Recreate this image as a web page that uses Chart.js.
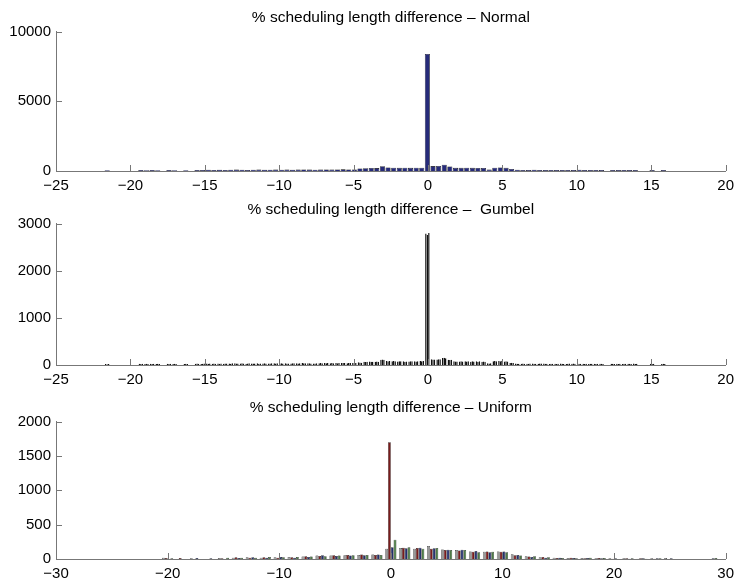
<!DOCTYPE html>
<html>
<head>
<meta charset="utf-8">
<script src="https://cdn.jsdelivr.net/npm/chart.js@4.4.0/dist/chart.umd.min.js"></script>
<style>
  body { margin: 0; background: #fff; }
  #wrap { position: relative; width: 740px; height: 582px; }
  canvas { position: absolute; left: 0; }
</style>
</head>
<body>
<div id="wrap">
  <canvas id="normalChart" width="740" height="202" style="top:0px"></canvas>
  <canvas id="gumbelChart" width="740" height="204" style="top:192px"></canvas>
  <canvas id="uniformChart" width="740" height="192" style="top:390px"></canvas>
</div>
<script>
// histogram bins (normal + gumbel share the same 100 bins)
const normalBinStart = -21.75;
const normalBinWidth = 0.3775;
const uniformBinStart = -20;
const uniformBinWidth = 1.25;

// Normal - counts per bin
const normalCounts = [
  60, 0, 0, 0, 0, 0, 70, 60, 70, 60, 0, 70, 60, 0, 60, 0,
  80, 70, 90, 80, 90, 80, 90, 100, 90, 80, 90, 100, 90, 90, 100, 90, 100, 90, 100, 110, 100, 90, 100, 110, 100, 110, 120, 110,
  110, 180, 200, 220, 210, 340, 250, 240, 230, 240, 230, 240, 240,
  8400,
  350, 360, 450, 330, 230, 230, 240, 230, 220, 220, 100, 240, 260, 230, 150,
  90, 80, 80, 90, 80, 80, 70, 80, 80, 70, 80, 90, 80, 70, 80, 70,
  0, 70, 80, 70, 70, 80, 0, 0, 80, 0, 70
];

// Gumbel - three grouped series
const gumbelA = [
  20, 0, 0, 0, 0, 0, 25, 20, 25, 20, 0, 25, 20, 0, 20, 0,
  25, 20, 30, 25, 30, 25, 30, 35, 30, 25, 30, 35, 30, 30, 35, 30, 35, 30, 35, 40, 35, 30, 35, 40, 35, 40, 40, 35,
  40, 60, 70, 75, 70, 110, 85, 80, 75, 80, 75, 80, 85,
  2790,
  120, 115, 150, 110, 80, 75, 80, 70, 80, 70, 35, 80, 85, 75, 45,
  30, 25, 25, 30, 25, 30, 20, 25, 30, 20, 25, 30, 25, 20, 25, 25,
  0, 25, 25, 20, 25, 30, 0, 0, 25, 0, 20
];
const gumbelB = [
  15, 0, 0, 0, 0, 0, 20, 25, 20, 25, 0, 20, 25, 0, 25, 0,
  30, 25, 25, 30, 25, 30, 25, 30, 35, 30, 30, 25, 35, 30, 30, 35, 30, 35, 30, 35, 35, 30, 40, 35, 40, 35, 45, 40,
  35, 55, 65, 70, 75, 115, 80, 85, 80, 70, 80, 75, 80,
  2760,
  115, 120, 155, 105, 75, 80, 75, 80, 70, 75, 30, 85, 80, 80, 50,
  25, 30, 25, 25, 30, 25, 25, 20, 25, 25, 30, 25, 20, 25, 20, 25,
  0, 25, 20, 25, 25, 20, 0, 0, 20, 0, 25
];
const gumbelC = [
  20, 0, 0, 0, 0, 0, 25, 20, 25, 20, 0, 25, 20, 0, 20, 0,
  25, 30, 30, 25, 30, 30, 35, 30, 30, 35, 30, 30, 30, 35, 35, 30, 30, 35, 35, 35, 30, 35, 35, 40, 35, 40, 40, 40,
  40, 50, 70, 70, 70, 110, 85, 80, 80, 75, 80, 80, 85,
  2800,
  115, 120, 145, 110, 75, 75, 80, 75, 80, 70, 35, 80, 90, 75, 45,
  25, 25, 30, 25, 30, 25, 25, 25, 20, 30, 25, 25, 25, 25, 25, 20,
  0, 20, 25, 25, 20, 25, 0, 0, 25, 0, 20
];

// Uniform - four grouped series, 40 bins
const uniformGray = [20, 0, 10, 0, 15, 20, 25, 20, 25, 30, 35, 50, 50, 55, 60, 65, 150, 160, 150, 190, 140, 130, 110, 105, 110, 70, 40, 25, 20, 15, 15, 10, 10, 10, 5, 10, 15, 0, 0, 0];
const uniformRed = [15, 15, 0, 0, 10, 25, 20, 25, 20, 25, 40, 45, 55, 60, 65, 60, 1700, 165, 160, 150, 130, 125, 105, 110, 105, 55, 35, 30, 15, 20, 10, 15, 5, 10, 10, 5, 0, 0, 0, 0];
const uniformNavy = [0, 0, 15, 10, 0, 15, 25, 20, 30, 20, 30, 55, 45, 50, 55, 65, 170, 155, 165, 155, 135, 135, 115, 100, 110, 60, 30, 20, 20, 15, 15, 10, 10, 5, 10, 10, 10, 0, 0, 10];
const uniformGreen = [10, 0, 0, 0, 20, 20, 20, 30, 25, 30, 35, 40, 50, 55, 60, 60, 280, 170, 150, 160, 130, 130, 100, 105, 100, 50, 40, 25, 15, 10, 20, 15, 0, 10, 5, 10, 0, 0, 0, 15];

const titles = [
  '% scheduling length difference \u2013 Normal',
  '% scheduling length difference \u2013  Gumbel',
  '% scheduling length difference \u2013 Uniform'
];

Chart.defaults.font.family = '"Liberation Sans", Arial, Helvetica, sans-serif';
Chart.defaults.font.size = 15;
Chart.defaults.color = '#000';

// turn counts into {x, y} points at the bin centres
function toPoints(counts, start, width) {
  return counts.map((c, i) => ({ x: start + width * (i + 0.5), y: c === 0 ? null : c }));
}

function minusLabel(v) {
  return v < 0 ? '\u2212' + Math.abs(v) : String(v);
}

// matlab style ticks pointing into the plot
const inwardTicks = {
  id: 'inwardTicks',
  afterDraw(chart) {
    const ctx = chart.ctx;
    const area = chart.chartArea;
    ctx.save();
    ctx.strokeStyle = '#777';
    ctx.lineWidth = 1;
    chart.scales.x.ticks.forEach(t => {
      const px = Math.round(chart.scales.x.getPixelForValue(t.value)) + 0.5;
      ctx.beginPath();
      ctx.moveTo(px, area.bottom);
      ctx.lineTo(px, area.bottom - 6);
      ctx.stroke();
    });
    chart.scales.y.ticks.forEach(t => {
      const py = Math.round(chart.scales.y.getPixelForValue(t.value)) + 0.5;
      ctx.beginPath();
      ctx.moveTo(area.left, py);
      ctx.lineTo(area.left + 6, py);
      ctx.stroke();
    });
    ctx.restore();
  }
};

function makeChart(id, title, datasets, xr, yr, groupPct, padBottom) {
  const ctx = document.getElementById(id).getContext('2d');
  return new Chart(ctx, {
    type: 'bar',
    data: { datasets: datasets },
    options: {
      responsive: false,
      animation: false,
      devicePixelRatio: 1,
      layout: { padding: { left: 0, right: 13, top: 0, bottom: padBottom } },
      datasets: { bar: { categoryPercentage: groupPct, barPercentage: datasets.length > 1 ? 1 : 0.9 } },
      plugins: {
        legend: { display: false },
        tooltip: { enabled: false },
        title: {
          display: true,
          fullSize: false, // centre over the axes, not the whole canvas
          text: title,
          font: { size: 15.5, weight: 'normal' },
          color: '#000',
          padding: { top: 8, bottom: 5 }
        }
      },
      scales: {
        x: {
          type: 'linear',
          offset: false,
          min: xr[0], max: xr[1],
          grid: { display: false, tickLength: 0 },
          border: { display: true, color: '#777' },
          ticks: { stepSize: xr[2], autoSkip: false, maxRotation: 0, padding: 6, callback: minusLabel },
          afterFit(scale) { scale.height = 21; }
        },
        y: {
          min: 0, max: yr[0],
          grid: { display: false, tickLength: 0 },
          border: { display: true, color: '#777' },
          ticks: { stepSize: yr[1], padding: 5, callback: v => String(v) },
          afterFit(scale) { scale.width = 56; }
        }
      }
    },
    plugins: [inwardTicks]
  });
}

document.addEventListener('DOMContentLoaded', function() {
  // Normal - single series
  makeChart('normalChart', titles[0], [{
    data: toPoints(normalCounts, normalBinStart, normalBinWidth),
    backgroundColor: '#262b7a',
    borderColor: '#000',
    borderWidth: 0.6
  }], [-25, 20, 5], [10000, 5000], 1, 10);

  // Gumbel - grouped
  const gumbelColors = ['#1d2160', '#3f6e32', '#6e1c1c'];
  makeChart('gumbelChart', titles[1], [gumbelA, gumbelB, gumbelC].map((s, i) => ({
    data: toPoints(s, normalBinStart, normalBinWidth),
    backgroundColor: gumbelColors[i],
    borderColor: '#111',
    borderWidth: 0.8
  })), [-25, 20, 5], [3000, 1000], 0.8, 10);

  // Uniform - grouped
  const uniformColors = ['#9a9a9a', '#7a1c1c', '#23306e', '#4d7a46'];
  makeChart('uniformChart', titles[2], [uniformGray, uniformRed, uniformNavy, uniformGreen].map((s, i) => ({
    data: toPoints(s, uniformBinStart - uniformBinWidth / 2, uniformBinWidth),
    backgroundColor: uniformColors[i],
    borderColor: '#000',
    borderWidth: 0.5
  })), [-30, 30, 10], [2000, 500], 0.8, 2);
});
</script>
</body>
</html>
